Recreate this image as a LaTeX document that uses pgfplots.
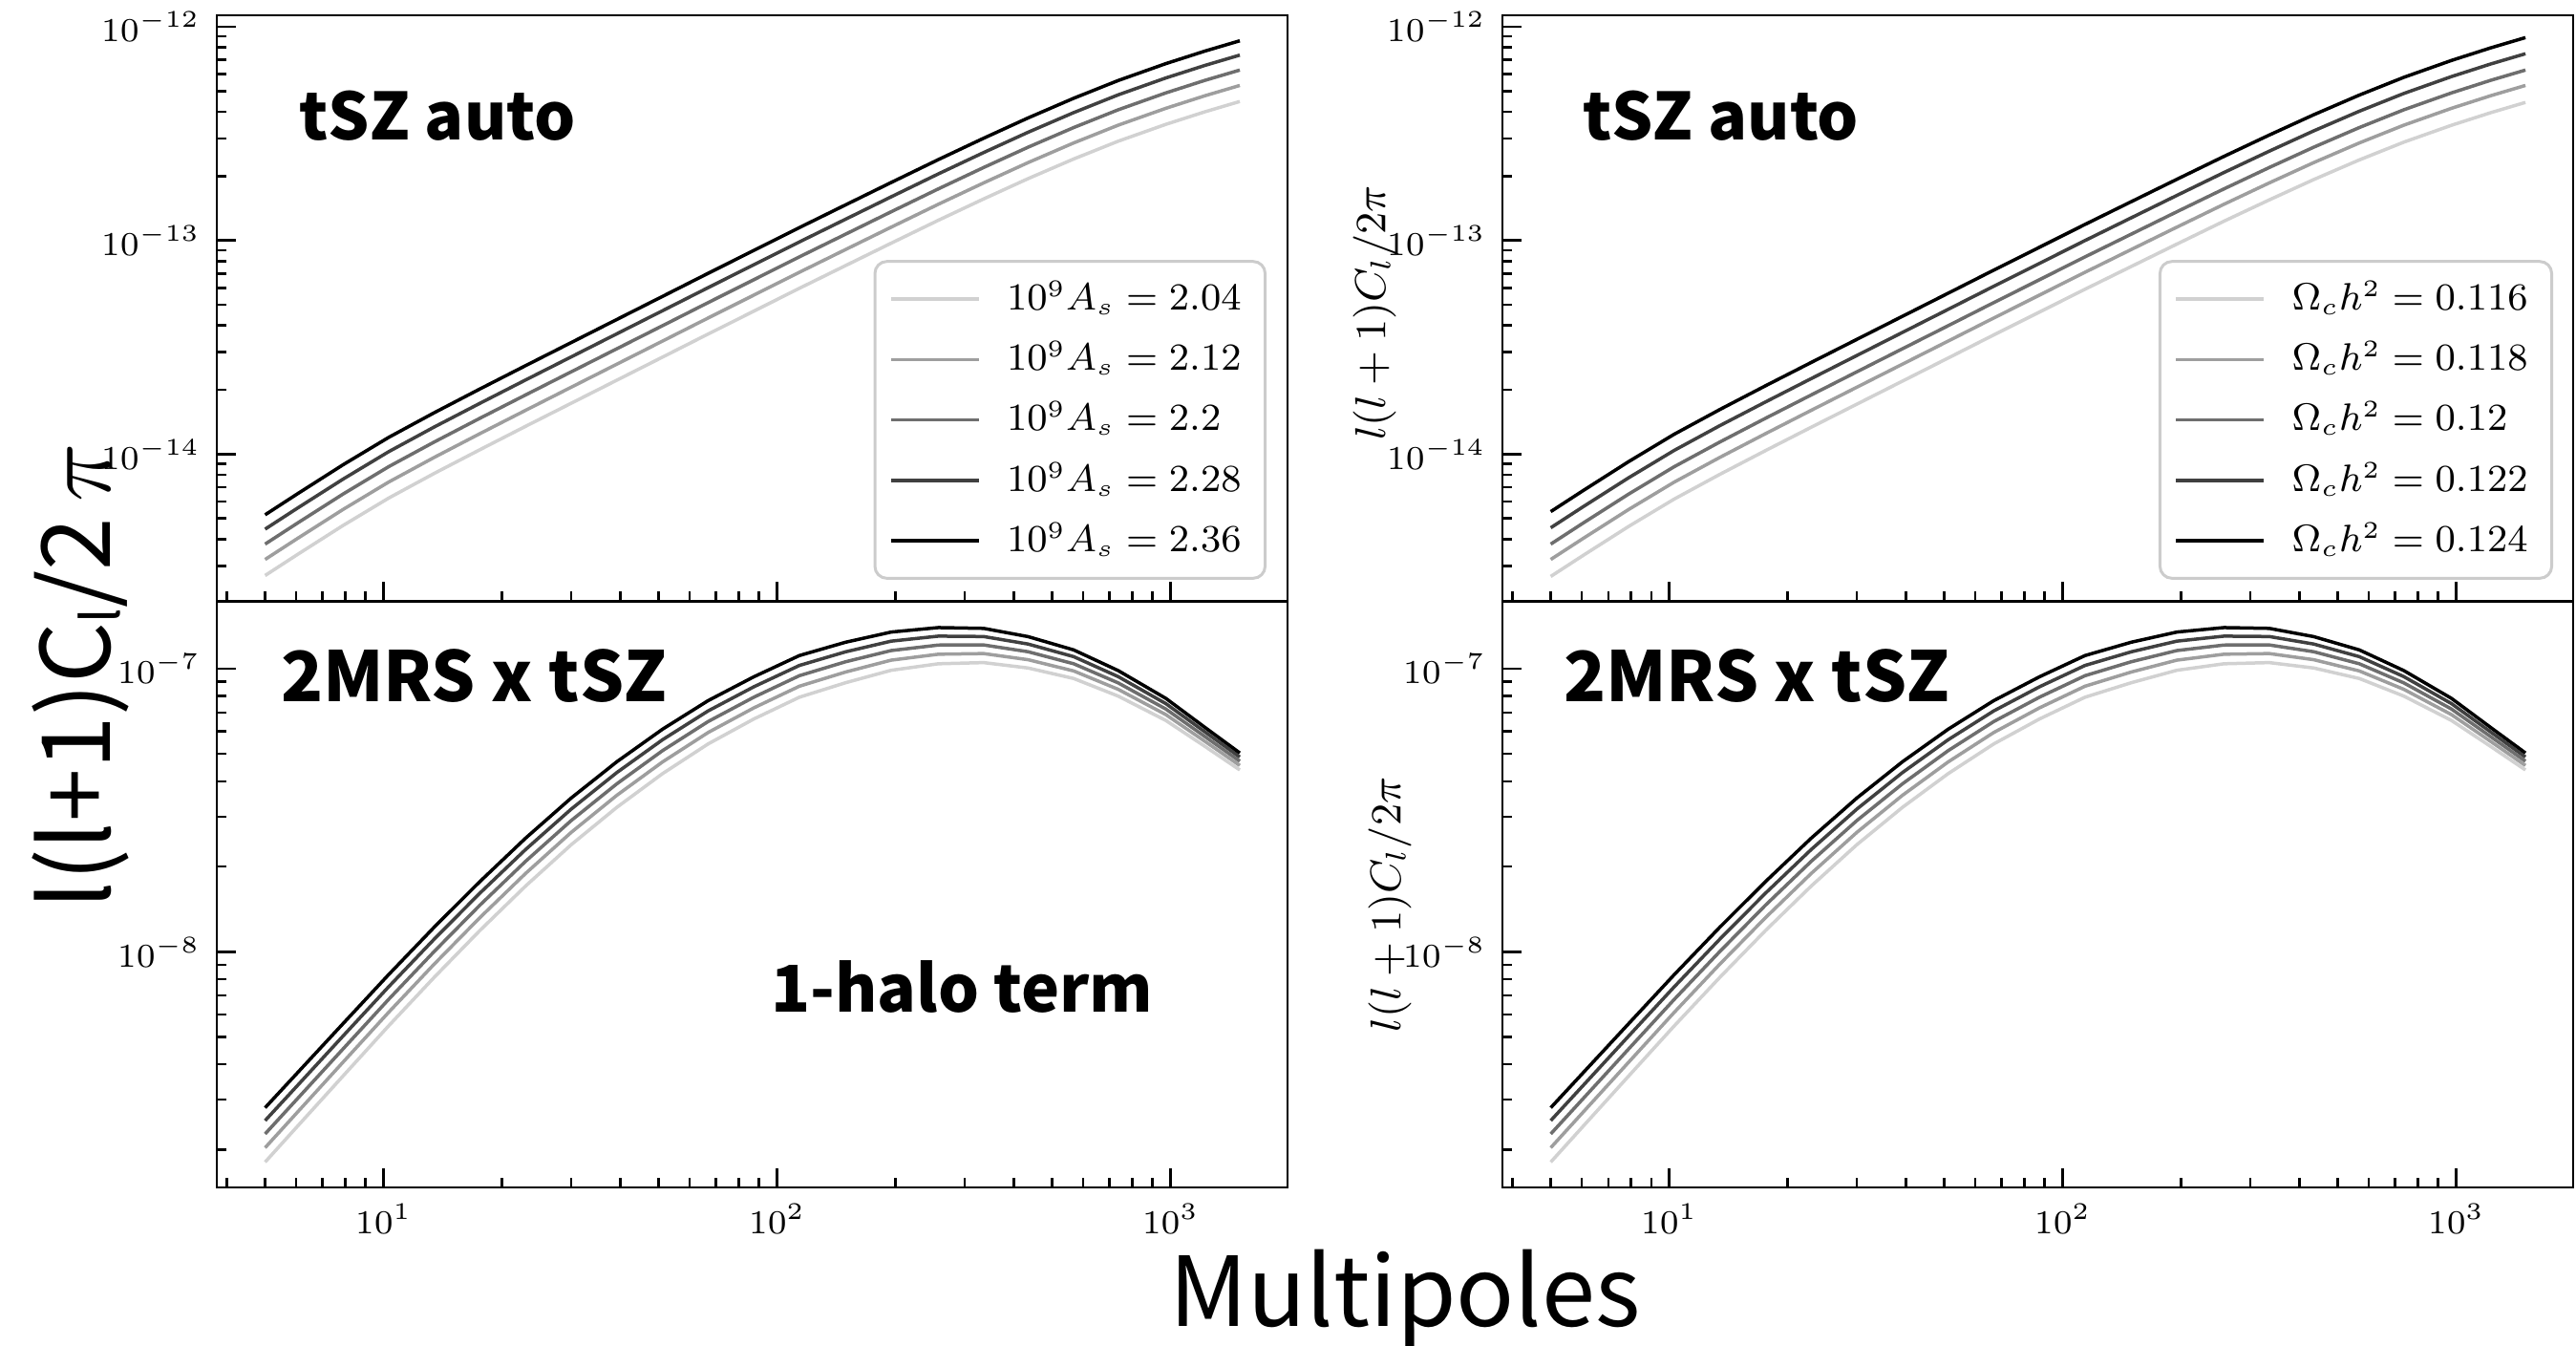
\documentclass[border=0pt]{standalone}
\usepackage{fontspec}
\usepackage{graphicx}
\usepackage{pgfplots}
\usepackage{pgfplotstable}
\pgfplotsset{compat=1.18}
\newfontfamily\jp{Noto Sans CJK JP}

\definecolor{g0}{gray}{0}
\definecolor{g1}{gray}{0.25}
\definecolor{g2}{gray}{0.43}
\definecolor{g3}{gray}{0.62}
\definecolor{g4}{gray}{0.82}

% tSZ auto, varying A_s (k0 = 2.36 ... k4 = 2.04)
\pgfplotstableread{
l k0 k1 k2 k3 k4
5     5.200e-15 4.456e-15 3.793e-15 3.214e-15 2.704e-15
6.04  6.517e-15 5.585e-15 4.754e-15 4.028e-15 3.389e-15
7.89  8.913e-15 7.638e-15 6.502e-15 5.508e-15 4.635e-15
10.3  1.197e-14 1.026e-14 8.732e-15 7.397e-15 6.224e-15
13.46 1.563e-14 1.340e-14 1.140e-14 9.659e-15 8.128e-15
17.58 2.018e-14 1.729e-14 1.472e-14 1.247e-14 1.049e-14
22.96 2.594e-14 2.223e-14 1.892e-14 1.603e-14 1.349e-14
29.99 3.327e-14 2.851e-14 2.427e-14 2.056e-14 1.730e-14
39.17 4.266e-14 3.656e-14 3.112e-14 2.636e-14 2.218e-14
51.17 5.470e-14 4.688e-14 3.990e-14 3.380e-14 2.844e-14
66.83 7.015e-14 6.012e-14 5.117e-14 4.335e-14 3.648e-14
87.3  8.974e-14 7.691e-14 6.547e-14 5.546e-14 4.666e-14
114.0 1.148e-13 9.838e-14 8.375e-14 7.095e-14 5.970e-14
149.3 1.466e-13 1.256e-13 1.069e-13 9.060e-14 7.623e-14
195.0 1.866e-13 1.599e-13 1.361e-13 1.153e-13 9.703e-14
257.0 2.388e-13 2.047e-13 1.742e-13 1.476e-13 1.242e-13
335.0 3.006e-13 2.576e-13 2.193e-13 1.858e-13 1.563e-13
434.5 3.741e-13 3.206e-13 2.729e-13 2.312e-13 1.945e-13
567.5 4.624e-13 3.963e-13 3.373e-13 2.858e-13 2.404e-13
736.2 5.598e-13 4.797e-13 4.084e-13 3.460e-13 2.911e-13
972.7 6.714e-13 5.754e-13 4.898e-13 4.149e-13 3.491e-13
1224  7.691e-13 6.591e-13 5.611e-13 4.753e-13 3.999e-13
1500  8.590e-13 7.362e-13 6.266e-13 5.309e-13 4.467e-13
}\tA

% tSZ auto, varying Omega_c h^2 (k0 = 0.124 ... k4 = 0.116)
\pgfplotstableread{
l k0 k1 k2 k3 k4
5     5.382e-15 4.523e-15 3.793e-15 3.214e-15 2.677e-15
6.04  6.745e-15 5.669e-15 4.754e-15 4.028e-15 3.355e-15
7.89  9.225e-15 7.753e-15 6.502e-15 5.508e-15 4.589e-15
10.3  1.239e-14 1.041e-14 8.732e-15 7.397e-15 6.162e-15
13.46 1.618e-14 1.360e-14 1.140e-14 9.659e-15 8.047e-15
17.58 2.089e-14 1.755e-14 1.472e-14 1.247e-14 1.039e-14
22.96 2.685e-14 2.256e-14 1.892e-14 1.603e-14 1.336e-14
29.99 3.443e-14 2.894e-14 2.427e-14 2.056e-14 1.713e-14
39.17 4.415e-14 3.711e-14 3.112e-14 2.636e-14 2.196e-14
51.17 5.661e-14 4.758e-14 3.990e-14 3.380e-14 2.816e-14
66.83 7.261e-14 6.102e-14 5.117e-14 4.335e-14 3.612e-14
87.3  9.288e-14 7.806e-14 6.547e-14 5.546e-14 4.619e-14
114.0 1.188e-13 9.986e-14 8.375e-14 7.095e-14 5.910e-14
149.3 1.517e-13 1.275e-13 1.069e-13 9.060e-14 7.547e-14
195.0 1.931e-13 1.623e-13 1.361e-13 1.153e-13 9.606e-14
257.0 2.472e-13 2.078e-13 1.742e-13 1.476e-13 1.230e-13
335.0 3.111e-13 2.615e-13 2.193e-13 1.858e-13 1.547e-13
434.5 3.872e-13 3.254e-13 2.729e-13 2.312e-13 1.926e-13
567.5 4.786e-13 4.022e-13 3.373e-13 2.858e-13 2.380e-13
736.2 5.794e-13 4.869e-13 4.084e-13 3.460e-13 2.882e-13
972.7 6.949e-13 5.840e-13 4.898e-13 4.149e-13 3.456e-13
1224  7.960e-13 6.690e-13 5.611e-13 4.753e-13 3.959e-13
1500  8.891e-13 7.472e-13 6.266e-13 5.309e-13 4.422e-13
}\tC

% 2MRS x tSZ (1-halo)
\pgfplotstableread{
l k0 k1 k2 k3 k4
5     2.812e-9 2.532e-9 2.272e-9 2.031e-9 1.807e-9
6.04  3.733e-9 3.366e-9 3.025e-9 2.710e-9 2.416e-9
7.89  5.571e-9 5.037e-9 4.535e-9 4.072e-9 3.639e-9
10.3  8.298e-9 7.517e-9 6.786e-9 6.107e-9 5.470e-9
13.46 1.222e-8 1.109e-8 1.003e-8 9.051e-9 8.128e-9
17.58 1.770e-8 1.611e-8 1.461e-8 1.320e-8 1.189e-8
22.96 2.518e-8 2.296e-8 2.086e-8 1.890e-8 1.706e-8
29.99 3.491e-8 3.190e-8 2.906e-8 2.640e-8 2.388e-8
39.17 4.688e-8 4.294e-8 3.919e-8 3.569e-8 3.236e-8
51.17 6.109e-8 5.607e-8 5.131e-8 4.681e-8 4.256e-8
66.83 7.709e-8 7.090e-8 6.503e-8 5.948e-8 5.420e-8
87.3  9.354e-8 8.624e-8 7.925e-8 7.266e-8 6.638e-8
114.0 1.112e-7 1.026e-7 9.441e-8 8.666e-8 7.925e-8
149.3 1.239e-7 1.146e-7 1.057e-7 9.723e-8 8.913e-8
195.0 1.346e-7 1.250e-7 1.158e-7 1.071e-7 9.863e-8
257.0 1.396e-7 1.302e-7 1.211e-7 1.124e-7 1.040e-7
335.0 1.387e-7 1.298e-7 1.212e-7 1.130e-7 1.050e-7
434.5 1.297e-7 1.221e-7 1.147e-7 1.075e-7 1.005e-7
567.5 1.164e-7 1.102e-7 1.040e-7 9.811e-8 9.226e-8
736.2 9.840e-8 9.370e-8 8.903e-8 8.450e-8 7.998e-8
972.7 7.852e-8 7.524e-8 7.199e-8 6.880e-8 6.561e-8
1224  6.194e-8 5.972e-8 5.749e-8 5.530e-8 5.309e-8
1500  5.035e-8 4.873e-8 4.710e-8 4.548e-8 4.385e-8
}\tB

\begin{document}
\begin{tikzpicture}
\useasboundingbox (0,0) rectangle (539.4pt,281.6pt);

% top left
\begin{axis}[at={(45.4pt,155.74pt)}, anchor=south west,
  xmode=log, ymode=log, scale only axis, width=224.2pt, height=122.66pt,
  xmin=3.77, xmax=1984, ymin=2.05e-15, ymax=1.13e-12,
  axis line style={line width=0.5pt},
  tick align=inside, xtick pos=left, ytick pos=left,
  major tick length=4.1pt, minor tick length=2pt,
  tick style={line width=0.5pt, black},
  tick label style={font=\fontsize{6.9}{8}\selectfont},
  xtick={10,100,1000}, xticklabels={},
  minor xtick={4,5,6,7,8,9,20,30,40,50,60,70,80,90,200,300,400,500,600,700,800,900},
  ytick={1e-14,1e-13,1e-12},
  minor ytick={3e-15,4e-15,5e-15,6e-15,7e-15,8e-15,9e-15,2e-14,3e-14,4e-14,5e-14,6e-14,7e-14,8e-14,9e-14,2e-13,3e-13,4e-13,5e-13,6e-13,7e-13,8e-13,9e-13},
  legend style={at={(1,0)}, anchor=south east,
    xshift=-4.4pt, yshift=4.5pt, draw=black!20, line width=0.6pt,
    rounded corners=2.5pt, fill=white, fill opacity=0.8, text opacity=1,
    font=\fontsize{7.8}{9}\selectfont, inner xsep=3pt, inner ysep=2.1pt, row sep=1.1pt,
    /tikz/every odd column/.append style={column sep=3.5pt}},
  legend image post style={xscale=1.08},
  legend cell align=left]
\addplot[g4, line width=0.7pt, no markers] table[x=l,y=k4]{\tA}; \addlegendentry{$10^9A_s=2.04$}
\addplot[g3, line width=0.7pt, no markers] table[x=l,y=k3]{\tA}; \addlegendentry{$10^9A_s=2.12$}
\addplot[g2, line width=0.7pt, no markers] table[x=l,y=k2]{\tA}; \addlegendentry{$10^9A_s=2.2$}
\addplot[g1, line width=0.7pt, no markers] table[x=l,y=k1]{\tA}; \addlegendentry{$10^9A_s=2.28$}
\addplot[g0, line width=0.7pt, no markers] table[x=l,y=k0]{\tA}; \addlegendentry{$10^9A_s=2.36$}
\end{axis}

% bottom left
\begin{axis}[at={(45.4pt,33pt)}, anchor=south west,
  xmode=log, ymode=log, scale only axis, width=224.2pt, height=122.74pt,
  xmin=3.77, xmax=1984, ymin=1.47e-9, ymax=1.73e-7,
  axis line style={line width=0.5pt},
  tick align=inside, xtick pos=left, ytick pos=left,
  major tick length=4.1pt, minor tick length=2pt,
  tick style={line width=0.5pt, black},
  tick label style={font=\fontsize{6.9}{8}\selectfont},
  xtick={10,100,1000},
  minor xtick={4,5,6,7,8,9,20,30,40,50,60,70,80,90,200,300,400,500,600,700,800,900},
  ytick={1e-8,1e-7},
  minor ytick={2e-9,3e-9,4e-9,5e-9,6e-9,7e-9,8e-9,9e-9,2e-8,3e-8,4e-8,5e-8,6e-8,7e-8,8e-8,9e-8}]
\addplot[g4, line width=0.7pt, no markers] table[x=l,y=k4]{\tB};
\addplot[g3, line width=0.7pt, no markers] table[x=l,y=k3]{\tB};
\addplot[g2, line width=0.7pt, no markers] table[x=l,y=k2]{\tB};
\addplot[g1, line width=0.7pt, no markers] table[x=l,y=k1]{\tB};
\addplot[g0, line width=0.7pt, no markers] table[x=l,y=k0]{\tB};
\end{axis}

% top right
\begin{axis}[at={(314.6pt,155.74pt)}, anchor=south west,
  xmode=log, ymode=log, scale only axis, width=224.2pt, height=122.66pt,
  xmin=3.77, xmax=1984, ymin=2.05e-15, ymax=1.13e-12,
  axis line style={line width=0.5pt},
  tick align=inside, xtick pos=left, ytick pos=left,
  major tick length=4.1pt, minor tick length=2pt,
  tick style={line width=0.5pt, black},
  tick label style={font=\fontsize{6.9}{8}\selectfont},
  xtick={10,100,1000}, xticklabels={},
  minor xtick={4,5,6,7,8,9,20,30,40,50,60,70,80,90,200,300,400,500,600,700,800,900},
  ytick={1e-14,1e-13,1e-12},
  minor ytick={3e-15,4e-15,5e-15,6e-15,7e-15,8e-15,9e-15,2e-14,3e-14,4e-14,5e-14,6e-14,7e-14,8e-14,9e-14,2e-13,3e-13,4e-13,5e-13,6e-13,7e-13,8e-13,9e-13},
  legend style={at={(1,0)}, anchor=south east,
    xshift=-4.2pt, yshift=4.5pt, draw=black!20, line width=0.6pt,
    rounded corners=2.5pt, fill=white, fill opacity=0.8, text opacity=1,
    font=\fontsize{7.8}{9}\selectfont, inner xsep=3pt, inner ysep=2.1pt, row sep=1.1pt,
    /tikz/every odd column/.append style={column sep=3.5pt}},
  legend image post style={xscale=1.08},
  legend cell align=left]
\addplot[g4, line width=0.7pt, no markers] table[x=l,y=k4]{\tC}; \addlegendentry{$\Omega_ch^2=0.116$}
\addplot[g3, line width=0.7pt, no markers] table[x=l,y=k3]{\tC}; \addlegendentry{$\Omega_ch^2=0.118$}
\addplot[g2, line width=0.7pt, no markers] table[x=l,y=k2]{\tC}; \addlegendentry{$\Omega_ch^2=0.12$}
\addplot[g1, line width=0.7pt, no markers] table[x=l,y=k1]{\tC}; \addlegendentry{$\Omega_ch^2=0.122$}
\addplot[g0, line width=0.7pt, no markers] table[x=l,y=k0]{\tC}; \addlegendentry{$\Omega_ch^2=0.124$}
\end{axis}

% bottom right
\begin{axis}[at={(314.6pt,33pt)}, anchor=south west,
  xmode=log, ymode=log, scale only axis, width=224.2pt, height=122.74pt,
  xmin=3.77, xmax=1984, ymin=1.47e-9, ymax=1.73e-7,
  axis line style={line width=0.5pt},
  tick align=inside, xtick pos=left, ytick pos=left,
  major tick length=4.1pt, minor tick length=2pt,
  tick style={line width=0.5pt, black},
  tick label style={font=\fontsize{6.9}{8}\selectfont},
  xtick={10,100,1000},
  minor xtick={4,5,6,7,8,9,20,30,40,50,60,70,80,90,200,300,400,500,600,700,800,900},
  ytick={1e-8,1e-7},
  minor ytick={2e-9,3e-9,4e-9,5e-9,6e-9,7e-9,8e-9,9e-9,2e-8,3e-8,4e-8,5e-8,6e-8,7e-8,8e-8,9e-8}]
\addplot[g4, line width=0.7pt, no markers] table[x=l,y=k4]{\tB};
\addplot[g3, line width=0.7pt, no markers] table[x=l,y=k3]{\tB};
\addplot[g2, line width=0.7pt, no markers] table[x=l,y=k2]{\tB};
\addplot[g1, line width=0.7pt, no markers] table[x=l,y=k1]{\tB};
\addplot[g0, line width=0.7pt, no markers] table[x=l,y=k0]{\tB};
\end{axis}

% y labels of the right column
\node[rotate=90, anchor=center, inner sep=0, font=\fontsize{9}{10}\selectfont] at (287.8pt,216.1pt) {$l(l+1)C_l/2\pi$};
\node[rotate=90, anchor=center, inner sep=0, font=\fontsize{9}{10}\selectfont] at (291pt,92.2pt) {$l(l+1)C_l/2\pi$};

% panel annotations
\node[anchor=base west, inner sep=0] at (62.5pt,252.26pt) {\jp\bfseries\fontsize{13.6}{13}\selectfont tSZ auto};
\node[anchor=base west, inner sep=0] at (331.2pt,252.26pt) {\jp\bfseries\fontsize{13.6}{13}\selectfont tSZ auto};
\node[anchor=base west, inner sep=0] at (58.6pt,134.66pt) {\jp\bfseries\fontsize{14.5}{14}\selectfont 2MRS x tSZ};
\node[anchor=base west, inner sep=0] at (327.2pt,134.66pt) {\jp\bfseries\fontsize{14.5}{14}\selectfont 2MRS x tSZ};
\node[anchor=base west, inner sep=0] at (161.3pt,69.66pt) {\jp\bfseries\fontsize{13.5}{14}\selectfont 1-halo term};

% shared labels
\node[anchor=base, inner sep=0] at (294.2pt,4pt) {\jp\fontsize{20.2}{20}\selectfont Multipoles};
\node[rotate=90, anchor=base, inner sep=0] at (23pt,140.1pt)
  {\jp\fontsize{20}{20}\selectfont l(l+1)C\raisebox{-0.2ex}{\fontsize{11}{11}\selectfont l}/2\,$\pi$};
\end{tikzpicture}
\end{document}
